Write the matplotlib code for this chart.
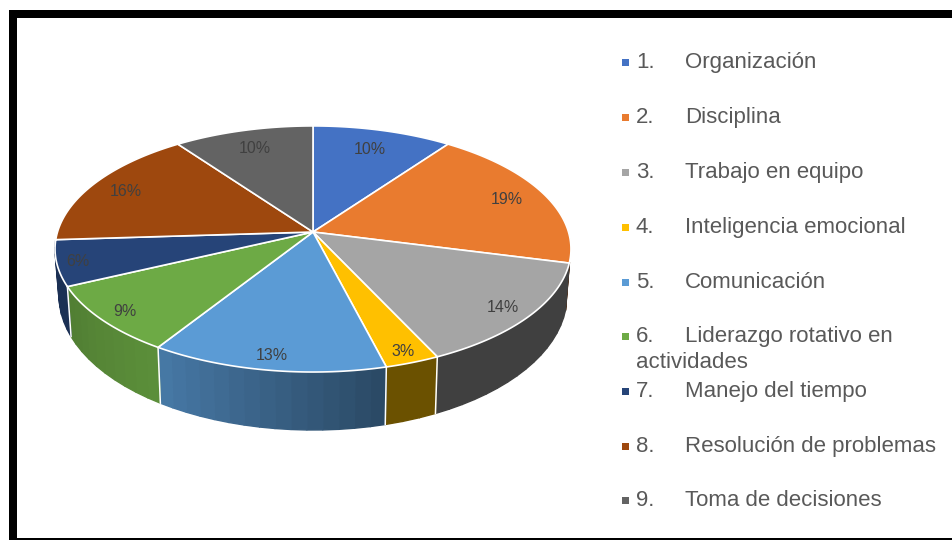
import numpy as np
import matplotlib
matplotlib.use("Agg")
import matplotlib.pyplot as plt
from matplotlib.patches import Rectangle

categories = ["Organización", "Disciplina", "Trabajo en equipo", "Inteligencia emocional",
              "Comunicación", "Liderazgo rotativo en", "Manejo del tiempo",
              "Resolución de problemas", "Toma de decisiones"]
numbers = ["1.", "2.", "3.", "4.", "5.", "6.", "7.", "8.", "9."]
values = [10, 19, 14, 3, 13, 9, 6, 16, 10]
colors = ["#4472C4", "#E97B2F", "#A5A5A5", "#FFC000", "#5B9BD5",
          "#6DAA45", "#264478", "#9E480E", "#636363"]
legend_y = [62, 117, 172, 227, 282, 336, 391, 446, 500]
label_r = [0.80, 0.84, 0.89, 0.92, 0.90, 0.90, 0.92, 0.85, 0.82]

plt.rcParams["font.family"] = ["Liberation Sans", "DejaVu Sans"]
W, H = 952, 540
fig = plt.figure(figsize=(W / 100, H / 100), dpi=100, facecolor="white")
ax = fig.add_axes([0, 0, 1, 1])
ax.set_xlim(0, W)
ax.set_ylim(H, 0)
ax.axis("off")

CX, CY, A, B, K = 313, 232, 255.5, 120.7, 0.138


def project(theta, r=1.0):
    t = np.radians(theta)
    u, v = r * np.sin(t), r * np.cos(t)
    w = 1 + K * v
    return CX + A * u / w, CY - B * v / w


def project_bottom(theta):
    x, y = project(theta)
    v = np.cos(np.radians(theta))
    return CX + (x - CX) * 0.985, y + 44 - 14 * v


def shade(color, f):
    rgb = np.array(matplotlib.colors.to_rgb(color))
    return tuple(rgb * f)


def side_factor(theta):
    return np.interp(theta, [100, 155, 156, 165, 166, 212, 213, 245, 246, 275],
                     [0.39, 0.39, 0.42, 0.42, 0.47, 0.78, 0.84, 0.74, 0.70, 0.70])


edges = 360 * np.cumsum([0] + values) / sum(values)

# sides: only the part of the rim that faces the viewer
for i, col in enumerate(colors):
    a0, a1 = max(edges[i], 104), min(edges[i + 1], 266)
    if a1 <= a0:
        continue
    n = max(int((a1 - a0) / 3), 1)
    th = np.linspace(a0, a1, n + 1)
    for t0, t1 in zip(th[:-1], th[1:]):
        x0, y0 = project(t0)
        x1, y1 = project(t1)
        x2, y2 = project_bottom(t1)
        x3, y3 = project_bottom(t0)
        fc = shade(col, side_factor((t0 + t1) / 2))
        ax.fill([x0, x1, x2, x3], [y0, y1, y2, y3], facecolor=fc,
                edgecolor=fc, lw=1.0, zorder=2)
    if 105 < edges[i + 1] < 266:
        xe, ye = project(edges[i + 1])
        xb, yb = project_bottom(edges[i + 1])
        ax.plot([xe, xb], [ye, yb], color="white", lw=1.1, zorder=3)

# top face
for i, col in enumerate(colors):
    th = np.linspace(edges[i], edges[i + 1], 80)
    xs, ys = project(th)
    ax.fill(np.r_[CX, xs], np.r_[CY, ys], facecolor=col, edgecolor="white", lw=1.2,
            joinstyle="round", zorder=4)

# percentage labels
for i, v in enumerate(values):
    x, y = project((edges[i] + edges[i + 1]) / 2, label_r[i])
    ax.text(x, y + 1, f"{v}%", ha="center", va="center", fontsize=11.5, color="#404040", zorder=5)

# legend
LEG = "#595959"
for num, name, col, y in zip(numbers, categories, colors, legend_y):
    ax.add_patch(Rectangle((621.5, y - 3.5), 7, 7, facecolor=col, edgecolor="none", zorder=5))
    ax.text(636, y + 0.5, num, ha="left", va="center", fontsize=16, color=LEG, zorder=5)
    ax.text(685, y + 0.5, name, ha="left", va="center", fontsize=16, color=LEG, zorder=5)
ax.text(636, 362.5, "actividades", ha="left", va="center", fontsize=16, color=LEG, zorder=5)

# black frame
ax.add_patch(Rectangle((9, 10), W - 9, 8, facecolor="black", edgecolor="none", zorder=6))
ax.add_patch(Rectangle((9, 10), 8, H - 10, facecolor="black", edgecolor="none", zorder=6))
ax.add_patch(Rectangle((9, H - 2), W - 9, 2, facecolor="black", edgecolor="none", zorder=6))

fig.savefig("out.png", dpi=100, facecolor="white")
